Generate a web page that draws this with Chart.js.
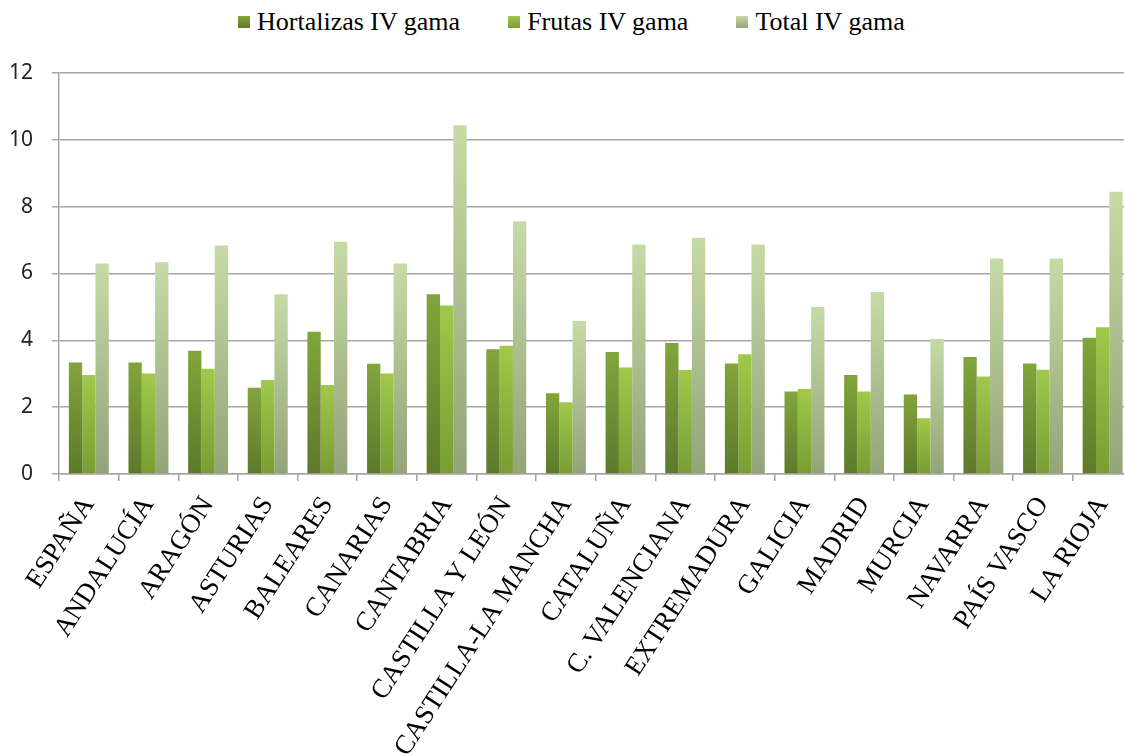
<!DOCTYPE html>
<html>
<head>
<meta charset="utf-8">
<script src="https://cdn.jsdelivr.net/npm/chart.js@4.4.0/dist/chart.umd.min.js"></script>
<style>
  html, body { margin: 0; padding: 0; background: #fff; overflow: hidden; width: 1124px; height: 754px; }
  #legend { position: absolute; top: 7px; left: 238px; display: flex; align-items: center; font-family: "Liberation Serif", "Times New Roman", serif; font-size: 26px; color: #000; line-height: 30px; white-space: nowrap; }
  #legend .item { display: flex; align-items: center; margin-right: 48px; }
  #legend .box { width: 12px; height: 12px; margin-right: 7px; }
  #main-graph { position: absolute; left: 0; top: 0; }
</style>
</head>
<body>
<div id="legend"></div>
<canvas id="main-graph" width="1140" height="754"></canvas>
<script>
const categories = [
  "ESPAÑA", "ANDALUCÍA", "ARAGÓN", "ASTURIAS", "BALEARES", "CANARIAS",
  "CANTABRIA", "CASTILLA Y LEÓN", "CASTILLA-LA MANCHA", "CATALUÑA",
  "C. VALENCIANA", "EXTREMADURA", "GALICIA", "MADRID", "MURCIA",
  "NAVARRA", "PAÍS VASCO", "LA RIOJA",
];
const hortalizas = [3.34, 3.34, 3.69, 2.58, 4.26, 3.30, 5.38, 3.73, 2.42, 3.65, 3.92, 3.31, 2.47, 2.96, 2.38, 3.50, 3.31, 4.08];
const frutas = [2.96, 3.01, 3.15, 2.81, 2.66, 3.01, 5.04, 3.84, 2.15, 3.19, 3.11, 3.58, 2.54, 2.47, 1.67, 2.92, 3.12, 4.39];
const total = [6.30, 6.34, 6.84, 5.38, 6.95, 6.30, 10.44, 7.56, 4.58, 6.87, 7.07, 6.87, 5.00, 5.45, 4.04, 6.45, 6.45, 8.45];
const yTicks = [0, 2, 4, 6, 8, 10, 12];

const seriesNames = ["Hortalizas IV gama", "Frutas IV gama", "Total IV gama"];
// top / bottom colours of each bar gradient, plus a flat fallback
const palette = [
  { top: "#82a53b", bottom: "#5d792b", swatch: "#6f9233" },
  { top: "#a0c94b", bottom: "#789d34", swatch: "#95bf41" },
  { top: "#c6daa6", bottom: "#93a479", swatch: "#b3c797" },
];

function barGradient(i) {
  return (c) => {
    const chart = c.chart;
    if (!chart.chartArea || c.type !== "data") return palette[i].swatch;
    const y = chart.scales.y;
    const top = y.getPixelForValue(c.raw);
    const bottom = y.getPixelForValue(0);
    if (!isFinite(top) || top === bottom) return palette[i].swatch;
    const g = chart.ctx.createLinearGradient(0, top, 0, bottom);
    g.addColorStop(0, palette[i].top);
    g.addColorStop(1, palette[i].bottom);
    return g;
  };
}

const legendEl = document.getElementById("legend");
seriesNames.forEach((name, i) => {
  const item = document.createElement("div");
  item.className = "item";
  const box = document.createElement("span");
  box.className = "box";
  box.style.background = "linear-gradient(" + palette[i].top + ", " + palette[i].bottom + ")";
  const txt = document.createElement("span");
  txt.textContent = name;
  item.appendChild(box);
  item.appendChild(txt);
  legendEl.appendChild(item);
});

const ctx = document.getElementById("main-graph");

new Chart(ctx, {
  type: "bar",
  data: {
    labels: categories,
    datasets: [
      { label: seriesNames[0], data: hortalizas, backgroundColor: barGradient(0) },
      { label: seriesNames[1], data: frutas, backgroundColor: barGradient(1) },
      { label: seriesNames[2], data: total, backgroundColor: barGradient(2) },
    ],
  },
  options: {
    responsive: false,
    animation: false,
    layout: { padding: { left: 0, top: 73, right: 6, bottom: 0 } },
    datasets: {
      bar: { categoryPercentage: 0.67, barPercentage: 1.0, borderWidth: 0 },
    },
    scales: {
      x: {
        grid: {
          drawOnChartArea: false,
          tickLength: 7,
          color: "#a6a6a6",
          lineWidth: 1.5,
        },
        border: { color: "#a6a6a6", width: 1.5 },
        ticks: {
          autoSkip: false,
          minRotation: 57,
          maxRotation: 57,
          padding: 10,
          color: "#000",
          font: { family: "'Liberation Serif', 'Times New Roman', serif", size: 27 },
        },
        afterFit: (scale) => { scale.height = 280; },
      },
      y: {
        min: 0,
        max: 12,
        afterBuildTicks: (scale) => { scale.ticks = yTicks.map((v) => ({ value: v })); },
        grid: { color: "#a6a6a6", lineWidth: 1.5, tickLength: 7 },
        border: { color: "#a6a6a6", width: 1.5 },
        ticks: {
          padding: 19,
          color: "#222",
          font: { family: "'Noto Sans', sans-serif", size: 21 },
        },
        afterFit: (scale) => { scale.width = 59; },
      },
    },
    plugins: {
      legend: { display: false },
      tooltip: { enabled: false },
    },
  },
});
</script>
</body>
</html>
